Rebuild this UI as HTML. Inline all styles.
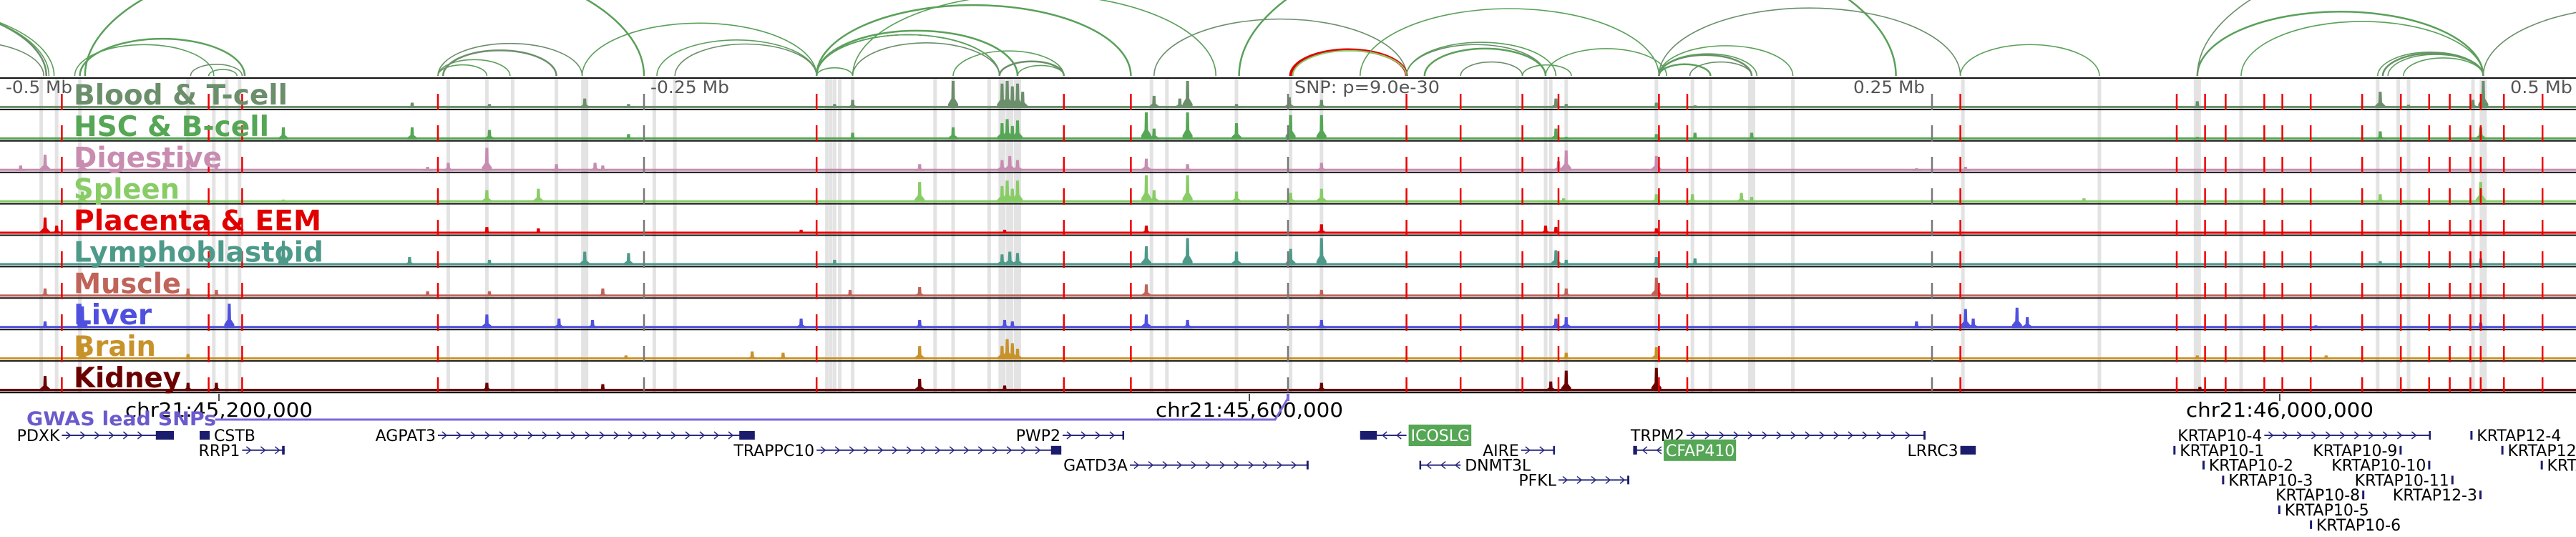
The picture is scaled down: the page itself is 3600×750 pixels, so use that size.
<!DOCTYPE html>
<html><head><meta charset="utf-8">
<style>
html,body{margin:0;padding:0;background:#fff;}
svg{display:block;}
text{font-family:"DejaVu Sans","Liberation Sans",sans-serif;}
</style></head>
<body>
<svg id="chart" width="3600" height="750" viewBox="0 0 3600 750" xmlns="http://www.w3.org/2000/svg">
  <g id="arcs"></g>
  <g id="bands"></g>
  <g id="tracks"></g>
  <g id="vlines"></g>
  <g id="labels"></g>
  <g id="axis"></g>
  <g id="genes"></g>
</svg>
<script>
// ---- data (positions in kb from window start; window = 1000 kb) ----
const trackNames = ["Blood & T-cell","HSC & B-cell","Digestive","Spleen","Placenta & EEM","Lymphoblastoid","Muscle","Liver","Brain","Kidney"];
const trackColors = ["#6b8e6b","#55a655","#c88cb0","#88cc66","#e00000","#4e9a8a","#c0645a","#5050e0","#c8922a","#6b0000"];
const labelWidths = [299,273,207,148,346,349,150,109,115,150];

const peaksBlood = [[160,.2],[190,.15],[227,.35],[244,.15],[324,.15],[331,.3],[370,1],[389,.9],[391,1],[393,.8],[395,.9],[397,.6],[448,.45],[458,.35],[461,1],[480,.15],[500.5,.4],[513,.3],[604,.35],[608,.15],[643,.2],[658,.1],[680,.05],[853,.25],[924,.6],[935,.12],[960,.3],[964,1]];
const peaksHSC = [[110,.45],[160,.45],[190,.35],[244,.2],[331,.25],[370,.45],[389,.6],[391,.75],[393,.5],[395,.7],[445,1],[448,.4],[461,1],[480,.6],[501,.9],[513,.9],[604,.4],[608,.1],[643,.2],[658,.25],[680,.25],[853,.1],[924,.3],[963,.45]];
const peaksDigestive = [[8,.2],[17.5,.6],[32,.4],[64,.3],[73,.4],[84,.2],[166,.15],[174,.3],[189,.85],[216,.25],[231,.3],[234,.2],[357,.25],[389,.4],[392,.55],[395,.4],[445,.45],[461,.25],[513,.3],[605,.35],[608,.75],[643,.55],[744,.1],[763,.15]];
const peaksSpleen = [[32,.4],[110,.1],[189,.45],[209,.5],[357,.75],[389,.6],[391,.8],[393,.5],[395,.8],[445,1],[448,.45],[461,1],[480,.4],[501,.35],[513,.5],[607,.15],[643,.3],[657,.3],[676,.35],[680,.2],[809,.15],[924,.3],[963,.75]];
const peaksPlacenta = [[17.5,.6],[22,.3],[189,.25],[209,.2],[311,.15],[390,.15],[445,.3],[513,.35],[600,.3],[604,.25],[643,.2]];
const peaksLympho = [[110,.9],[159,.3],[190,.2],[227,.5],[244,.45],[324,.2],[389,.4],[392,.5],[395,.45],[445,.7],[461,1],[480,.5],[501,.6],[513,1],[604,.55],[608,.2],[643,.3],[658,.25],[924,.15],[963,.25]];
const peaksMuscle = [[17.5,.3],[73,.3],[84,.25],[166,.2],[190,.2],[234,.3],[330,.25],[357,.35],[445,.45],[513,.25],[608,.3],[643,.7]];
const peaksLiver = [[17.5,.25],[32,.8],[89,.9],[189,.5],[217,.35],[230,.3],[311,.35],[357,.3],[390,.3],[393,.25],[445,.5],[461,.3],[513,.3],[604,.35],[608,.4],[744,.25],[763,.7],[766,.35],[783,.75],[787,.4],[899,.1],[963,.2]];
const peaksBrain = [[32,.5],[73,.2],[243,.15],[292,.3],[304,.25],[357,.5],[389,.5],[391,.75],[393,.6],[395,.4],[608,.25],[643,.45],[853,.15],[903,.15]];
const peaksKidney = [[17.5,.55],[73,.3],[84,.3],[189,.3],[234,.25],[357,.45],[390,.2],[513,.3],[602,.35],[608,.75],[643,.85],[854,.15]];
const trackPeaks = [peaksBlood,peaksHSC,peaksDigestive,peaksSpleen,peaksPlacenta,peaksLympho,peaksMuscle,peaksLiver,peaksBrain,peaksKidney];

const arcStarts = [-111,-106,-100,-42,31,29,74,81,33,170,170,170,172,226,255,262,317,317,317,317,317,331,317,370,388,395,331,448,481,501,546,546,553,567,591,600,644,644,644,656,644,528,644,761,853,853,870,923,925,927,933,964];
const arcEnds   = [18,19,21,17,95,83,94,92,250,226,189,198,216,317,317,317,439,388,388,388,395,388,331,413,413,413,472,546,736,546,600,604,600,591,610,647,680,682,696,680,664,644,761,815,964,1083,964,964,964,964,964,1083];
const arcRed = [29];

const redLines = [24,81,94,170,317,413,439,546,567,591,605,644,655,761,845,856,864,879,886,897,917,932,943,951,959,963,972,987];
const grayLines = [250,500,750];
const bandPos = [16,22,31,73,83,88,93,174,189,199,216,227,254,262,321,322.5,324,326,331,363,370,384,389,392,395,447,453,480,501,513,589,600,602,608,643,657,664,680,696,762,815,853,870,923,931,935,960,964];
const bandWide = [227,389,392,395,680,853,964];

const tickLabels = ["chr21:45,200,000","chr21:45,600,000","chr21:46,000,000"];
const tickKb = [85,485,885];
const mbLabels = ["-0.5 Mb","-0.25 Mb","SNP: p=9.0e-30","0.25 Mb","0.5 Mb"];

const geneNames = ["PDXK","CSTB","RRP1","AGPAT3","TRAPPC10","PWP2","GATD3A","ICOSLG","AIRE","DNMT3L","PFKL","TRPM2","CFAP410","LRRC3","KRTAP10-4","KRTAP12-4","KRTAP10-1","KRTAP10-9","KRTAP12-2","KRTAP10-2","KRTAP10-10","KRTAP12-1","KRTAP10-3","KRTAP10-11","KRTAP10-8","KRTAP12-3","KRTAP10-5","KRTAP10-6"];
const geneStart = [24,77.5,94,170,317,412.5,438.6,528,590.5,551,605,654.7,634,761,879,959,843.7,931.5,971,855,942.6,986.3,862.6,951.6,917,962.5,884.4,896.7];
const geneEnd   = [67.5,81.4,110.5,293,412,436.4,508,546,603.6,567,632.5,747.5,645,767,943.6,959.8,844.5,932.3,971.8,855.8,943.4,987.1,863.4,952.4,917.8,963.3,885.2,897.5];
const geneStrand = [1,1,1,1,1,1,1,-1,1,-1,1,1,-1,1,1,1,1,1,1,1,1,1,1,1,1,1,1,1];
const geneRow = [0,0,1,0,1,0,2,0,1,2,3,0,1,1,0,0,1,1,1,2,2,2,3,3,4,4,5,6];
const geneLabelSide = [-1,1,-1,-1,-1,-1,-1,1,-1,1,-1,-1,1,-1,-1,1,1,-1,1,1,-1,1,1,-1,-1,-1,1,1];
const geneBlockKb = [7,3.9,1,6,4,0.6,0.8,6.5,0.6,0.6,0.8,0.8,1.5,6,0.6,0.8,0.8,0.8,0.8,0.8,0.8,0.8,0.8,0.8,0.8,0.8,0.8,0.8];
const geneHighlight = ["ICOSLG","CFAP410"];

// ---- scales ----
const NS = "http://www.w3.org/2000/svg";
const xScale = kb => kb * 3.6;
const TOP = 109, TH = 43.9, NT = 10;
const trackTop = i => TOP + i * TH;
const rowY = r => 608 + r * 20.8;
function mk(tag, attrs, parent){ const e=document.createElementNS(NS,tag); for(const k in attrs) e.setAttribute(k,attrs[k]); parent.appendChild(e); return e; }

// ---- arcs ----
const gArcs = document.getElementById("arcs");
const baseY = 106;
arcStarts.forEach((s,i)=>{
  const x1=xScale(s), x2=xScale(arcEnds[i]); const rx=(x2-x1)/2, ry=(x2-x1)*0.225;
  const red = arcRed.includes(i);
  const p = mk("path",{d:`M${x1},${baseY} A${rx},${ry} 0 0 1 ${x2},${baseY}`,fill:"none",stroke: red?"#e00000":(i%3===0?"#6b8e6b":"#5aa05a"),"stroke-width": red?4:(i%4===0?2.5:1.6)},gArcs);
  
  
  if(red){ const q=mk("path",{d:`M${x1+3},${baseY} A${rx-3},${ry-2} 0 0 1 ${x2},${baseY}`,fill:"none",stroke:"#88cc66","stroke-width":2},gArcs);
    
     }
});

// ---- bands ----
const gBands = document.getElementById("bands");
bandPos.forEach(b=>{
  const w = bandWide.includes(b)?10:5;
  const r = mk("rect",{x:xScale(b)-w/2,y:TOP,width:w,height:NT*TH,fill:"#e3e3e3"},gBands);
  
  
});

// ---- tracks ----
const gTracks = document.getElementById("tracks");
for(let i=0;i<NT;i++){
  const bot = trackTop(i+1)-2, col = trackColors[i], maxH = TH-6;
  const g = mk("g",{},gTracks);
  
  
  const base = mk("rect",{x:0,y:bot-3,width:3600,height:3,fill:col},g);
  
  
  trackPeaks[i].forEach(([pos,h])=>{
    const x = xScale(pos), hh = h*maxH;
    const pk = mk("path",{d:`M${x-7},${bot} L${x-7},${bot-hh*0.15} L${x-2.5},${bot-hh*0.35} L${x-2},${bot-hh} L${x+2},${bot-hh} L${x+2.5},${bot-hh*0.35} L${x+7},${bot-hh*0.15} L${x+7},${bot} Z`,fill:col},g);
    
    
  });
}
for(let i=0;i<=NT;i++){
  const l = mk("line",{x1:0,x2:3600,y1:trackTop(i),y2:trackTop(i),stroke:"#111","stroke-width":i===NT?2.5:2},gTracks);
  
  
}

// ---- vertical marker lines ----
const gV = document.getElementById("vlines");
redLines.forEach(r=>{
  const l = mk("line",{x1:xScale(r),x2:xScale(r),y1:131,y2:TOP+NT*TH,stroke:"#ee0000","stroke-width":2.5,"stroke-dasharray":"23 21"},gV);
  
  
});
grayLines.forEach(r=>{
  const l = mk("line",{x1:xScale(r),x2:xScale(r),y1:131,y2:TOP+NT*TH,stroke:"#777","stroke-width":2.5,"stroke-dasharray":"23 21"},gV);
  
  
});

// ---- labels ----
const gL = document.getElementById("labels");
trackNames.forEach((n,i)=>{
  const t = mk("text",{x:103,y:trackTop(i+1)-7,fill:trackColors[i],"font-size":39,"font-weight":"bold",textLength:labelWidths[i],lengthAdjust:"spacingAndGlyphs"},gL);
  t.textContent = n;
  
  
});
const mbX = [8,909,1809,2590,3508], mbW=[93,110,203,100,87];
mbLabels.forEach((m,i)=>{
  const t = mk("text",{x:mbX[i],y:130,fill:"#555","font-size":24,textLength:mbW[i],lengthAdjust:"spacingAndGlyphs"},gL);
  t.textContent = m;
  
  
});

// ---- axis ----
const gA = document.getElementById("axis");
tickKb.forEach((k,i)=>{
  const x = xScale(k)+0;
  const tk = mk("line",{x1:x,x2:x,y1:550,y2:560,stroke:"#111","stroke-width":1.5},gA);
  
  
  const t = mk("text",{x:x,y:582,"text-anchor":"middle",fill:"#000","font-size":28,textLength:262,lengthAdjust:"spacingAndGlyphs"},gA);
  t.textContent = tickLabels[i];
  
  
});
const gw = mk("text",{x:37,y:594,fill:"#6a5acd","font-size":27,"font-weight":"bold",textLength:265,lengthAdjust:"spacingAndGlyphs"},gA);
gw.textContent = "GWAS lead SNPs";


const gwl = mk("path",{d:`M${xScale(83.5)},586 L${xScale(495)},586 L${xScale(500)},556`,fill:"none",stroke:"#7b68dd","stroke-width":3},gA);


const snpm = mk("rect",{x:xScale(500)-2,y:550,width:4,height:10,fill:"#7b68dd"},gA);



// ---- genes ----
const gG = document.getElementById("genes");
geneNames.forEach((n,i)=>{
  const x1=xScale(geneStart[i]), x2=xScale(geneEnd[i]), y=rowY(geneRow[i]), col="#1c1c6e";
  const g = mk("g",{},gG);
  
  
  const bw = Math.max(2.5, xScale(geneBlockKb[i]));
  const s=geneStrand[i];
  if(x2-x1>bw+4){
    mk("line",{x1:x1,x2:x2,y1:y,y2:y,stroke:"#2a2a80","stroke-width":2},g);
    const from = s>0?x1:x1+bw, to = s>0?x2-bw:x2;
    for(let cx=from+10; cx<to-4; cx+=20){
      mk("path",{d:`M${cx-s*4},${y-5} L${cx+s*2},${y} L${cx-s*4},${y+5}`,fill:"none",stroke:"#2a2a80","stroke-width":1.5},g);
    }
    const bh = bw>6?12:12;
    if(s>0) mk("rect",{x:x2-bw,y:y-bh/2,width:bw,height:bh,fill:col},g);
    else mk("rect",{x:x1,y:y-bh/2,width:bw,height:bh,fill:col},g);
  } else {
    mk("rect",{x:x1,y:y-6,width:Math.max(3,x2-x1),height:12,fill:col},g);
  }
  const side = geneLabelSide[i];
  const lx = side<0 ? x1-3 : x2+4;
  const hl = geneHighlight.includes(n);
  if(hl){
    const w = n.length*13.6+6;
    mk("rect",{x:lx-1,y:y-15,width:w,height:30,fill:"#55a655"},g);
  }
  const t = mk("text",{x:side<0?lx:lx+2,y:y+8,"text-anchor":side<0?"end":"start",fill:hl?"#fff":"#000","font-size":22},g);
  t.textContent = n;
  
  
});
</script>
</body></html>
